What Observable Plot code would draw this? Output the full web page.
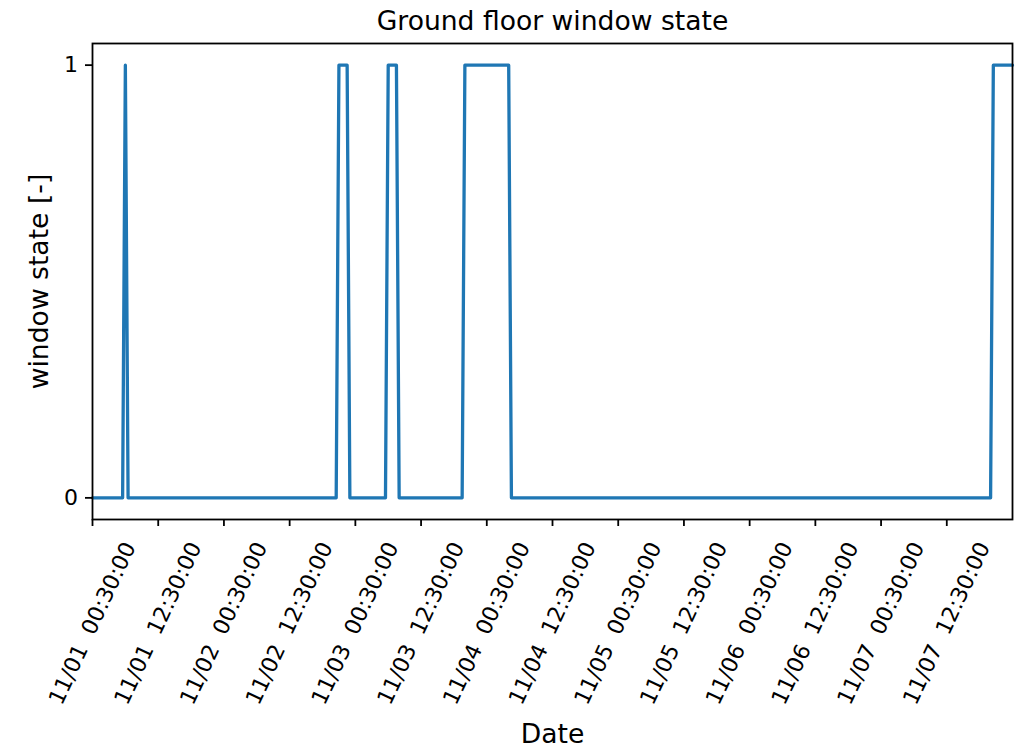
<!DOCTYPE html>
<html>
<head>
<meta charset="utf-8">
<script src="https://cdn.jsdelivr.net/npm/d3@7"></script>
<script src="https://cdn.jsdelivr.net/npm/@observablehq/plot@0.6"></script>
<style>
  body { margin: 0; background: #fff; }
</style>
</head>
<body>
<div id="chart"></div>
<script>
const title = "Ground floor window state";
const xLabel = "Date";
const yLabel = "window state [-]";

// vertices of the window-state series (UTC)
const times = [
  "2021-11-01T00:30Z", "2021-11-01T06:00Z", "2021-11-01T06:30Z", "2021-11-01T07:00Z",
  "2021-11-02T21:00Z", "2021-11-02T21:30Z", "2021-11-02T23:00Z", "2021-11-02T23:30Z",
  "2021-11-03T06:00Z", "2021-11-03T06:30Z", "2021-11-03T08:00Z", "2021-11-03T08:30Z",
  "2021-11-03T20:00Z", "2021-11-03T20:30Z", "2021-11-04T04:30Z", "2021-11-04T05:00Z",
  "2021-11-07T20:30Z", "2021-11-07T21:00Z", "2021-11-08T00:30Z"
];
const states = [
  0, 0, 1, 0,
  0, 1, 1, 0,
  0, 1, 1, 0,
  0, 1, 1, 0,
  0, 1, 1
];

const xTicks = [
  "2021-11-01T00:30Z", "2021-11-01T12:30Z", "2021-11-02T00:30Z", "2021-11-02T12:30Z",
  "2021-11-03T00:30Z", "2021-11-03T12:30Z", "2021-11-04T00:30Z", "2021-11-04T12:30Z",
  "2021-11-05T00:30Z", "2021-11-05T12:30Z", "2021-11-06T00:30Z", "2021-11-06T12:30Z",
  "2021-11-07T00:30Z", "2021-11-07T12:30Z"
];
const yTicks = [0, 1];

const data = times.map((t, i) => ({date: new Date(t), state: states[i]}));
const tickDates = xTicks.map(t => new Date(t));
const fmt = d3.utcFormat("%m/%d\u00a0 %H:%M:%S");

const chart = Plot.plot({
  width: 1025,
  height: 749,
  marginLeft: 92,
  marginRight: 13,
  marginTop: 43,
  marginBottom: 230,
  style: {fontFamily: "DejaVu Sans", color: "black", background: "white", overflow: "visible"},
  x: {type: "utc", domain: [data[0].date, data[data.length - 1].date]},
  y: {domain: [-0.05, 1.05]},
  marks: [
    Plot.line(data, {x: "date", y: "state", stroke: "#1f77b4", strokeWidth: 3.3}),
    Plot.frame({stroke: "black", strokeWidth: 1.8}),
    Plot.axisX(tickDates, {tickSize: 7, strokeWidth: 1.8, tickFormat: () => "", label: null}),
    Plot.text(tickDates, {
      x: d => d, frameAnchor: "bottom", text: d => fmt(d),
      rotate: -65, textAnchor: "middle", lineAnchor: "middle",
      dy: 104, fontSize: 22, fill: "black"
    }),
    Plot.axisY(yTicks, {tickSize: 7, tickPadding: 7.5, strokeWidth: 1.8, fontSize: 22, label: null, tickFormat: d => String(d)}),
    Plot.text([title], {text: d => d, frameAnchor: "top", lineAnchor: "bottom", dy: -14, fontSize: 26.6, fill: "black"}),
    Plot.text([xLabel], {text: d => d, frameAnchor: "bottom", lineAnchor: "bottom", dy: 223, fontSize: 26.6, fill: "black"}),
    Plot.text([yLabel], {text: d => d, frameAnchor: "left", rotate: -90, textAnchor: "middle", lineAnchor: "bottom", dx: -45, fontSize: 26.6, fill: "black"})
  ]
});
document.getElementById("chart").appendChild(chart);
</script>
</body>
</html>
